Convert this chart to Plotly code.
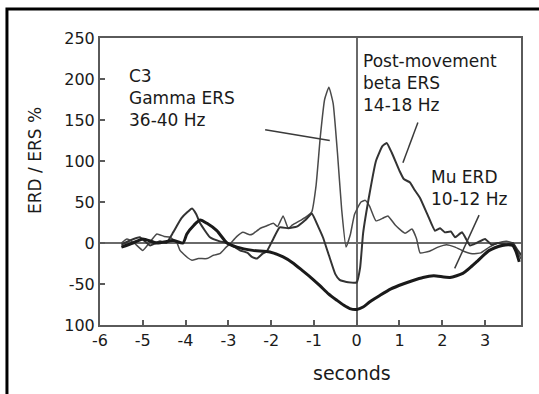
import plotly.graph_objects as go

# ---- data ----
gamma_x = [-5.5, -5.37, -5.2, -5.0, -4.85, -4.67, -4.5, -4.36, -4.2, -4.13, -3.95, -3.85, -3.7, -3.5, -3.35,
           -3.2, -3.05, -2.96, -2.8, -2.66, -2.5, -2.43, -2.25, -2.1, -1.95, -1.85, -1.72, -1.6, -1.5, -1.3,
           -1.15, -1.05, -0.95, -0.85, -0.75, -0.65, -0.55, -0.45, -0.35, -0.25, -0.15, -0.05, 0.1, 0.2,
           0.3, 0.45, 0.6, 0.73, 0.9, 1.13, 1.29, 1.4, 1.48, 1.7, 1.9, 2.1, 2.3, 2.5, 2.7, 2.9, 3.1, 3.3,
           3.5, 3.65, 3.75, 3.85]
gamma_y = [0, 5, 0, -9, 0, 11, 8, 7, 0, -9, -18, -21, -19, -19, -15,
           -13, -5, -1, 8, 13, 10, 11, 18, 21, 24, 20, 33, 18, 22, 28,
           33, 38, 70, 130, 175, 190, 170, 110, 40, -5, 10, 35, 50, 52,
           45, 27, 30, 33, 22, 12, 17, 5, -12, -10, -5, -2, -5, -10, -13, -12, -5, 0,
           2, 0, -10, -20]

beta_x = [-5.5, -5.3, -5.07, -4.83, -4.6, -4.45, -4.29, -4.1, -3.95, -3.85, -3.75, -3.66, -3.43, -3.2,
          -3.03, -2.85, -2.73, -2.55, -2.45, -2.33, -2.2, -2.1, -1.95, -1.8, -1.6, -1.4, -1.2, -1.05,
          -0.9, -0.79, -0.65, -0.5, -0.4, -0.2, 0.0, 0.08, 0.15, 0.3, 0.45, 0.6, 0.7, 0.82, 1.0, 1.1,
          1.24, 1.35, 1.48, 1.66, 1.83, 1.95, 2.06, 2.2, 2.3, 2.46, 2.65, 2.8, 3.0, 3.15, 3.3, 3.5,
          3.65, 3.75, 3.85]
beta_y = [-2, 3, 7, -3, 2, 0, 13, 30, 38, 42, 35, 24, 7, 2,
          0, -5, -9, -12, -17, -19, -13, -10, 5, 19, 18, 20, 28, 36,
          20, 7, -15, -38, -45, -48, -48, -30, 12, 60, 100, 118, 122, 110, 88, 78,
          74, 65, 55, 34, 15, 18, 13, 14, 7, 13, -3, 0, 5, -2, 0, -2,
          0, -8, -15]

mu_x = [-5.5, -5.23, -5.0, -4.67, -4.29, -4.06, -3.97, -3.8, -3.66, -3.5, -3.27, -3.03, -2.8, -2.43,
        -2.03, -1.72, -1.5, -1.26, -1.05, -0.86, -0.66, -0.46, -0.3, -0.16, 0.0, 0.15, 0.3, 0.54,
        0.8, 1.08, 1.3, 1.55, 1.8, 2.18, 2.48, 2.65, 2.8, 3.1, 3.4, 3.55, 3.65, 3.72, 3.8]
mu_y = [-5, 0, 5, 0, 3, 0, 11, 22, 28, 24, 15, 0, -5, -9,
        -11, -17, -24, -34, -43, -52, -62, -70, -76, -80, -81, -78, -72, -64,
        -56, -50, -46, -42, -40, -42, -37, -30, -23, -9, -3, -2, -3, -10, -23]

y_tickvals = [-100, -50, 0, 50, 100, 150, 200, 250]
y_ticktext = ["100", "-50", "0", "50", "100", "150", "200", "250"]
x_tickvals = [-6, -5, -4, -3, -2, -1, 0, 1, 2, 3]
x_ticktext = ["-6", "-5", "-4", "-3", "-2", "-1", "0", "1", "2", "3"]

labels = [
    ("C3<br>Gamma ERS<br>36-40 Hz", -5.38, 218),
    ("Post-movement<br>beta ERS<br>14-18 Hz", 0.1, 237),
    ("Mu ERD<br>10-12 Hz", 1.7, 95),
]
pointers = [
    (-2.14, 138, -0.63, 125),
    (1.43, 147, 1.08, 98),
    (2.86, 34, 2.29, -31),
]

fig = go.Figure()
fig.add_trace(go.Scatter(x=gamma_x, y=gamma_y, mode="lines",
                         line=dict(color="#4a4a4a", width=1.5, shape="spline", smoothing=0.4)))
fig.add_trace(go.Scatter(x=beta_x, y=beta_y, mode="lines",
                         line=dict(color="#333333", width=2, shape="spline", smoothing=0.4)))
fig.add_trace(go.Scatter(x=mu_x, y=mu_y, mode="lines",
                         line=dict(color="#1a1a1a", width=3, shape="spline", smoothing=0.6)))

for x0, y0, x1, y1 in pointers:
    fig.add_shape(type="line", xref="x", yref="y", x0=x0, y0=y0, x1=x1, y1=y1,
                  line=dict(color="#3a3a3a", width=1.5))

for txt, x, y in labels:
    fig.add_annotation(x=x, y=y, xref="x", yref="y", text=txt, showarrow=False,
                       xanchor="left", yanchor="top", align="left",
                       font=dict(family="DejaVu Sans", size=17, color="#1a1a1a"))

# outer black frame (top and left visible)
fig.add_shape(type="rect", xref="paper", yref="paper", x0=-0.221, x1=1.2, y0=-0.4, y1=1.101,
              line=dict(color="black", width=3), layer="above")

fig.add_annotation(xref="paper", yref="paper", x=(35 - 100) / 421, y=(325 - 161) / 287,
                   xanchor="center", yanchor="middle",
                   text="ERD / ERS %", textangle=-90, showarrow=False,
                   font=dict(family="DejaVu Sans", size=17, color="#1a1a1a"))
fig.add_annotation(xref="paper", yref="paper", x=(352 - 100) / 421, y=(325 - 373) / 287,
                   xanchor="center", yanchor="middle",
                   text="seconds", showarrow=False,
                   font=dict(family="DejaVu Sans", size=19, color="#1a1a1a"))

axis_common = dict(showline=True, linecolor="#5a5a5a", linewidth=2, mirror=True,
                   showgrid=False, ticks="inside", ticklen=5, tickwidth=1.5, tickcolor="#5a5a5a",
                   zeroline=True, zerolinecolor="#6a6a6a", zerolinewidth=2,
                   tickfont=dict(family="DejaVu Sans", size=16, color="#1a1a1a"))

fig.update_layout(
    width=539, height=394,
    margin=dict(l=100, r=18, t=38, b=69),
    paper_bgcolor="white", plot_bgcolor="white",
    showlegend=False,
    xaxis=dict(range=[-6, 3.84], tickvals=x_tickvals, ticktext=x_ticktext, **axis_common),
    yaxis=dict(range=[-100, 250], tickvals=y_tickvals, ticktext=y_ticktext, **axis_common),
)

fig.write_html("out.html", config={"displayModeBar": False},
               post_script="document.body.style.margin='0px';document.body.style.overflow='hidden';")
